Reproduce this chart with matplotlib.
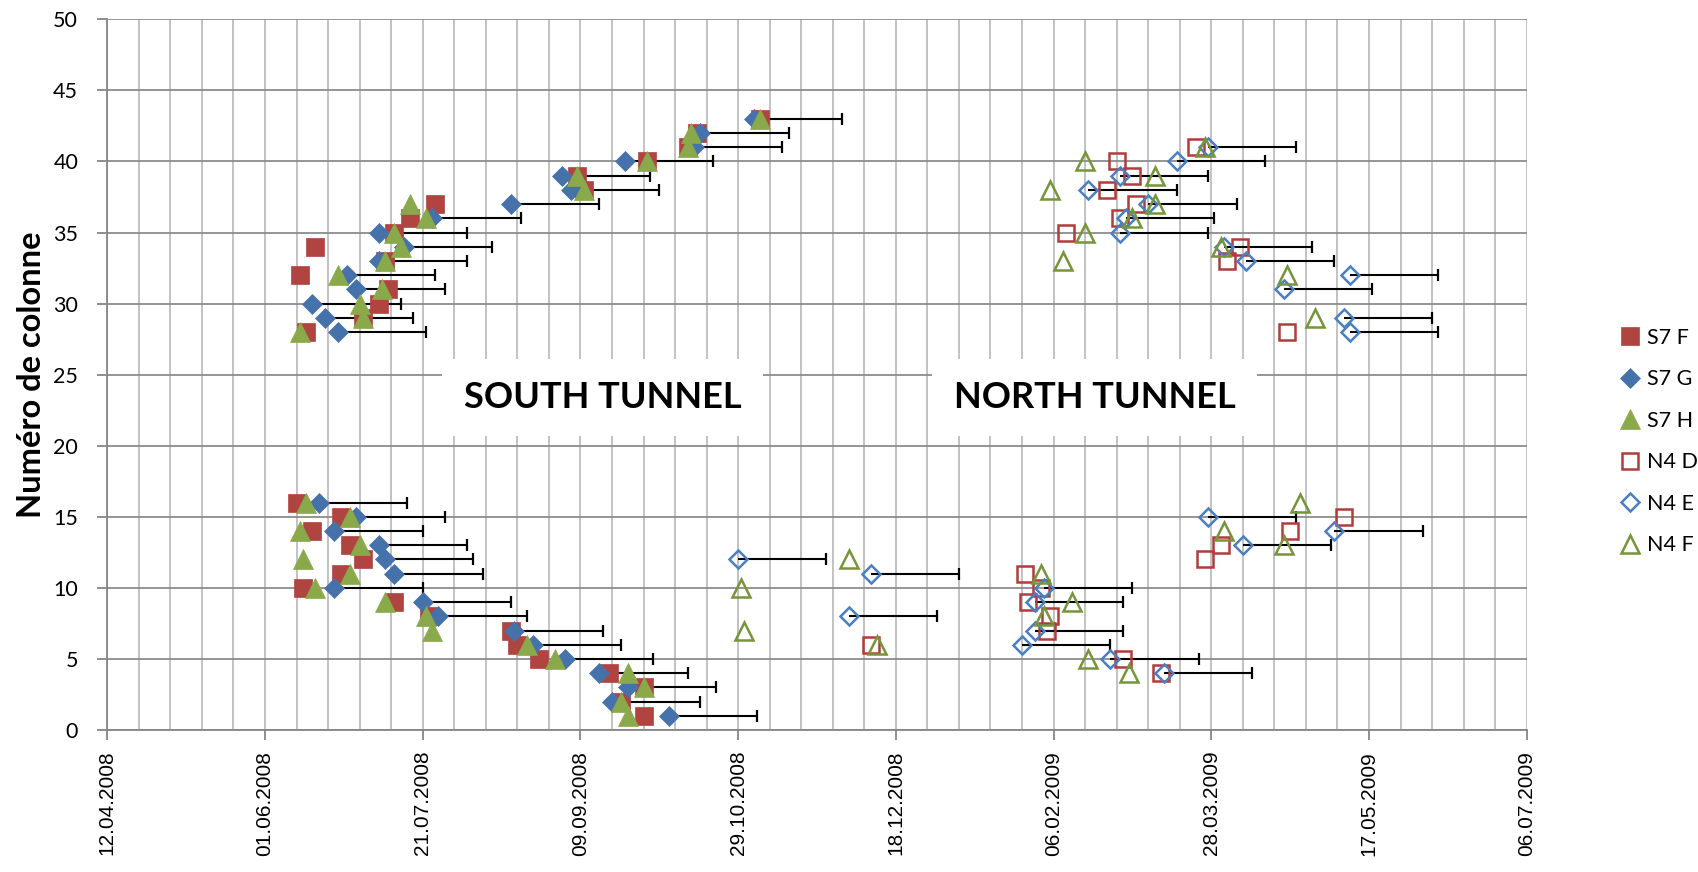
import numpy as np
import pandas as pd
import matplotlib
matplotlib.use("Agg")
import matplotlib.pyplot as plt
import matplotlib.dates as mdates

# days counted from 12.04.2008
t0 = np.datetime64("2008-04-12")

s7_cols = [43, 42, 41, 40, 39, 38, 37, 36, 35, 34, 33, 32, 31, 30, 29, 28,
           16, 15, 14, 13, 12, 11, 10, 9, 8, 7, 6, 5, 4, 3, 2, 1]
s7f_days = [207, 187, 184, 171, 149, 151, 104, 96, 91, 66, 88, 61, 89, 86, 81, 63,
            60, 74, 65, 77, 81, 74, 62, 91, 102, 128, 130, 137, 159, 170, 163, 170]
s7g_days = [205, 188, 186, 164, 144, 147, 128, 103, 86, 94, 86, 76, 79, 65, 69, 73,
            67, 79, 72, 86, 88, 91, 72, 100, 105, 129, 135, 145, 156, 165, 160, 178]
s7h_days = [207, 185, 184, 171, 149, 151, 96, 101, 91, 93, 88, 73, 87, 80, 81, 61,
            63, 77, 61, 80, 62, 77, 66, 88, 101, 103, 133, 142, 165, 170, 163, 165]

n4d_cols = [41, 40, 39, 38, 37, 36, 35, 34, 33, 28, 15, 14, 13, 12, 11, 10, 9, 8, 7, 6, 5, 4]
n4d_days = [345, 320, 325, 317, 326, 321, 304, 359, 355, 374, 392, 375, 353, 348,
            291, 296, 292, 299, 298, 242, 322, 334]

n4e_cols = [41, 40, 39, 38, 37, 36, 35, 34, 33, 32, 31, 29, 28,
            15, 14, 13, 12, 11, 10, 9, 8, 7, 6, 5, 4]
n4e_days = [349, 339, 321, 311, 330, 323, 321, 354, 361, 394, 373, 392, 394,
            349, 389, 360, 200, 242, 297, 294, 235, 294, 290, 318, 335]

n4f_cols = [41, 40, 39, 38, 37, 36, 35, 34, 33, 32, 29,
            16, 14, 13, 12, 11, 10, 9, 8, 7, 6, 5, 4]
n4f_days = [348, 310, 332, 299, 332, 325, 310, 353, 303, 374, 383,
            378, 354, 373, 235, 296, 201, 306, 297, 202, 244, 311, 324]

err_days = 28  # plus-only error bar on the G / E series


def to_dates(days):
    return t0 + np.array(days).astype("timedelta64[D]")


red, blue, green = "#b04441", "#4672ab", "#8aa94a"
red_o, blue_o, green_o = "#b03c3c", "#4a7fc0", "#76953a"

fig = plt.figure(figsize=(16.98, 8.72), dpi=100)
ax = fig.add_axes([107.3 / 1698, 1 - 730 / 872, (1526.7 - 107.3) / 1698, (730 - 19.3) / 872])

# error bars (drawn under the markers)
for days, cols in [(s7g_days, s7_cols), (n4e_days, n4e_cols)]:
    x0 = to_dates(days)
    x1 = x0 + np.timedelta64(err_days, "D")
    ax.hlines(cols, x0, x1, color="black", lw=1.5, zorder=2)
    ax.plot(x1, cols, ls="none", marker="|", ms=9, mew=1.6, color="black", zorder=2)

ax.plot(to_dates(s7f_days), s7_cols, ls="none", marker="s", ms=13.5, mfc=red, mec=red,
        mew=0.5, label="S7 F", zorder=3)
ax.plot(to_dates(s7g_days), s7_cols, ls="none", marker="D", ms=10, mfc=blue, mec=blue,
        mew=0.5, label="S7 G", zorder=3)
ax.plot(to_dates(s7h_days), s7_cols, ls="none", marker="^", ms=14.5, mfc=green, mec=green,
        mew=0.5, label="S7 H", zorder=3)
ax.plot(to_dates(n4d_days), n4d_cols, ls="none", marker="s", ms=12, mfc="none", mec=red_o,
        mew=1.8, label="N4 D", zorder=3)
ax.plot(to_dates(n4e_days), n4e_cols, ls="none", marker="D", ms=9, mfc="none", mec=blue_o,
        mew=1.8, label="N4 E", zorder=3)
ax.plot(to_dates(n4f_days), n4f_cols, ls="none", marker="^", ms=13, mfc="none", mec=green_o,
        mew=1.8, label="N4 F", zorder=3)

# axes
t_end = t0 + np.timedelta64(450, "D")
ax.set_xlim(t0, t_end)
ax.set_ylim(0, 50)
major = pd.date_range(str(t0), periods=10, freq="50D")
minor = pd.date_range(str(t0), periods=46, freq="10D")
ax.set_xticks(major)
ax.set_xticks(minor, minor=True)
ax.xaxis.set_major_formatter(mdates.DateFormatter("%d.%m.%Y"))
ax.set_yticks(range(0, 51, 5))

ax.grid(which="both", axis="x", color="#bdbdbd", lw=1.3, zorder=0)
ax.grid(which="major", axis="y", color="#8c8c8c", lw=1.3, zorder=0)
ax.set_axisbelow(True)

for side in ["top", "right"]:
    ax.spines[side].set_visible(False)
for side in ["left", "bottom"]:
    ax.spines[side].set_color("#868686")
    ax.spines[side].set_linewidth(1.3)

ax.tick_params(axis="x", which="minor", length=0)
ax.tick_params(axis="x", which="major", length=7, width=1.3, color="#868686", pad=8)
ax.tick_params(axis="y", length=7, width=1.3, color="#868686", pad=14)
for lab in ax.get_xticklabels():
    lab.set_rotation(90)
    lab.set_fontfamily("Liberation Sans")
    lab.set_fontsize(15)
for lab in ax.get_yticklabels():
    lab.set_fontfamily("Lato")
    lab.set_fontsize(15.5)

ax.set_ylabel("Numéro de colonne", fontfamily="Lato", fontweight="bold", fontsize=23.5, labelpad=5)

box = dict(boxstyle="square,pad=0.6", facecolor="white", edgecolor="none")
ax.text(t0 + np.timedelta64(157, "D"), 23.4, "SOUTH TUNNEL", ha="center", va="center",
        fontfamily="Lato", fontweight="bold", fontsize=26, bbox=box, zorder=4)
ax.text(t0 + np.timedelta64(313, "D"), 23.4, "NORTH TUNNEL", ha="center", va="center",
        fontfamily="Lato", fontweight="bold", fontsize=26, bbox=box, zorder=4)

fig.legend(loc="center left", bbox_to_anchor=(1619 / 1698, 1 - 441.5 / 872), frameon=False,
           numpoints=1, handlelength=1.0, handletextpad=0.3, labelspacing=1.0, borderpad=0,
           borderaxespad=0, prop={"family": "Lato", "size": 15.5})

fig.savefig("out.png", dpi=100)
